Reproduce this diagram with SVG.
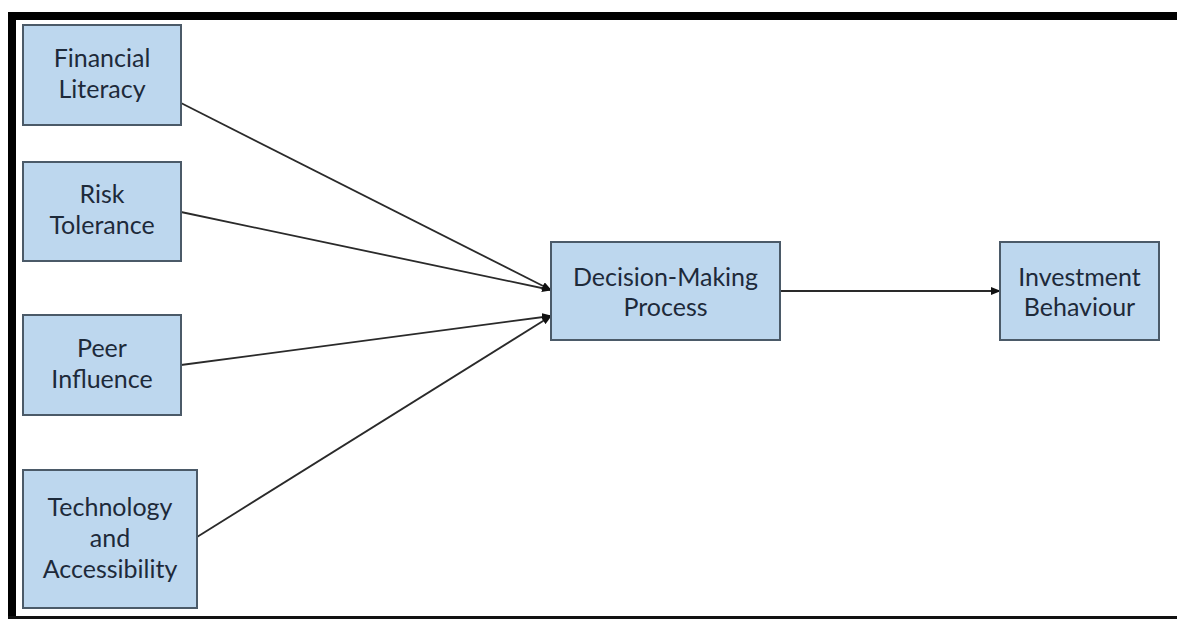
<svg xmlns="http://www.w3.org/2000/svg" width="1177" height="619" viewBox="0 0 1177 619">
  <defs>
    <marker id="arr" markerWidth="10" markerHeight="8" refX="9" refY="4" orient="auto" markerUnits="userSpaceOnUse">
      <path d="M0,0 L10,4 L0,8 Z" fill="#111"/>
    </marker>
    <style>
      .box { fill: #bdd7ee; stroke: #4b5a68; stroke-width: 2; }
      .lbl { font-family: Lato, "Liberation Sans", sans-serif; font-size: 25px; fill: #1d2a3a; text-anchor: middle; }
      .edge { stroke: #2a2a2a; stroke-width: 1.8; fill: none; marker-end: url(#arr); }
    </style>
  </defs>
  <rect x="0" y="0" width="1177" height="619" fill="#ffffff"/>
  <!-- frame -->
  <rect x="8" y="12" width="1169" height="8" fill="#000"/>
  <rect x="8" y="12" width="8" height="607" fill="#000"/>
  <rect x="8" y="616" width="1169" height="3" fill="#111"/>

  <g id="connectors">
    <line class="edge" x1="181" y1="103" x2="551" y2="290"/>
    <line class="edge" x1="181" y1="212" x2="551" y2="290"/>
    <line class="edge" x1="181" y1="365" x2="551" y2="316"/>
    <line class="edge" x1="197" y1="537" x2="551" y2="316"/>
    <line class="edge" x1="780" y1="291" x2="1000" y2="291"/>
  </g>

  <g id="financial-literacy">
    <rect class="box" x="23" y="25" width="158" height="100"/>
    <text class="lbl" x="102" y="67">Financial</text>
    <text class="lbl" x="102" y="98">Literacy</text>
  </g>
  <g id="risk-tolerance">
    <rect class="box" x="23" y="162" width="158" height="99"/>
    <text class="lbl" x="102" y="203">Risk</text>
    <text class="lbl" x="102" y="234">Tolerance</text>
  </g>
  <g id="peer-influence">
    <rect class="box" x="23" y="315" width="158" height="100"/>
    <text class="lbl" x="102" y="357">Peer</text>
    <text class="lbl" x="102" y="388">Influence</text>
  </g>
  <g id="technology-accessibility">
    <rect class="box" x="23" y="470" width="174" height="138"/>
    <text class="lbl" x="110" y="516">Technology</text>
    <text class="lbl" x="110" y="547">and</text>
    <text class="lbl" x="110" y="578">Accessibility</text>
  </g>
  <g id="decision-making">
    <rect class="box" x="551" y="242" width="229" height="98"/>
    <text class="lbl" x="665.5" y="286">Decision-Making</text>
    <text class="lbl" x="665.5" y="316">Process</text>
  </g>
  <g id="investment-behaviour">
    <rect class="box" x="1000" y="242" width="159" height="98"/>
    <text class="lbl" x="1079.5" y="286">Investment</text>
    <text class="lbl" x="1079.5" y="316">Behaviour</text>
  </g>
</svg>
